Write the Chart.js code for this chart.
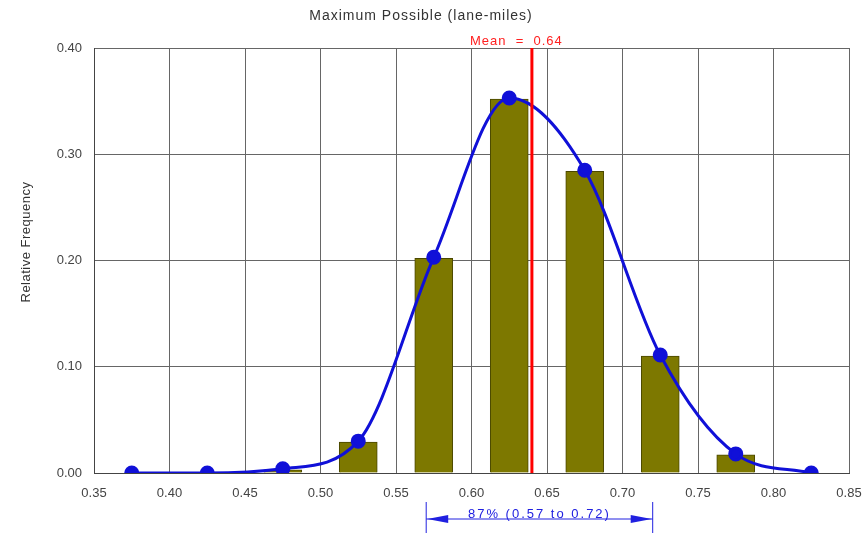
<!DOCTYPE html>
<html>
<head>
<meta charset="UTF-8">
<title>Maximum Possible (lane-miles)</title>
<script src="https://cdn.jsdelivr.net/npm/chart.js@4.4.0/dist/chart.umd.min.js"></script>
<style>
  html, body { margin: 0; padding: 0; background: #fff; }
  #wrap { width: 868px; height: 534px; position: relative; }
</style>
</head>
<body>
<div id="wrap"><canvas id="c"></canvas></div>
<script>
// histogram bins (centre of each bin) and relative frequency
const binCenters = [0.475, 0.525, 0.575, 0.625, 0.675, 0.725, 0.775];
const barFreq    = [0.003, 0.029, 0.202, 0.352, 0.284, 0.110, 0.017];

// fitted curve points
const curveX = [0.375, 0.425, 0.475, 0.525, 0.575, 0.625, 0.675, 0.725, 0.775, 0.825];
const curveY = [0.000, 0.000, 0.004, 0.030, 0.203, 0.353, 0.285, 0.111, 0.018, 0.000];

const meanValue = 0.64;
const rangeLow = 0.57, rangeHigh = 0.72;
const rangeLabel = '87% (0.57 to 0.72)';
const yTicks = [0.00, 0.10, 0.20, 0.30, 0.40];

const FONT = '"Liberation Sans", Arial, sans-serif';

const extras = {
  id: 'extras',
  afterDatasetsDraw(chart) {
    const { ctx, chartArea, scales } = chart;
    const xs = scales.x;
    ctx.save();
    // mean line
    const mx = xs.getPixelForValue(meanValue);
    ctx.strokeStyle = '#ff0000';
    ctx.lineWidth = 3;
    ctx.beginPath();
    ctx.moveTo(mx, chartArea.top);
    ctx.lineTo(mx, chartArea.bottom);
    ctx.stroke();
    ctx.restore();
  },
  afterDraw(chart) {
    const { ctx, scales } = chart;
    const xs = scales.x;
    ctx.save();
    // title
    ctx.fillStyle = '#333';
    ctx.font = '14px ' + FONT;
    ctx.textAlign = 'center';
    ctx.textBaseline = 'middle';
    ctx.letterSpacing = '1px';
    ctx.fillText('Maximum Possible (lane-miles)', 421, 16);

    // y axis title
    ctx.save();
    ctx.font = '13px ' + FONT;
    ctx.letterSpacing = '0.5px';
    ctx.translate(26, 242);
    ctx.rotate(-Math.PI / 2);
    ctx.fillText('Relative Frequency', 0, 0);
    ctx.restore();

    // mean label
    const mx = xs.getPixelForValue(meanValue);
    ctx.font = '13px ' + FONT;
    ctx.fillStyle = '#ff2020';
    ctx.textAlign = 'left';
    ctx.textBaseline = 'alphabetic';
    ctx.letterSpacing = '1px';
    ctx.fillText('Mean  =  0.64', mx - 62, 45);

    // range annotation
    const x1 = xs.getPixelForValue(rangeLow);
    const x2 = xs.getPixelForValue(rangeHigh);
    const ay = 519;
    ctx.strokeStyle = '#2020e0';
    ctx.fillStyle = '#2020e0';
    ctx.lineWidth = 1;
    ctx.beginPath();
    ctx.moveTo(x1, 502); ctx.lineTo(x1, 533);
    ctx.moveTo(x2, 502); ctx.lineTo(x2, 533);
    ctx.moveTo(x1, ay); ctx.lineTo(x2, ay);
    ctx.stroke();
    ctx.beginPath();
    ctx.moveTo(x1 + 1, ay); ctx.lineTo(x1 + 22, ay - 4); ctx.lineTo(x1 + 22, ay + 4); ctx.closePath();
    ctx.moveTo(x2 - 1, ay); ctx.lineTo(x2 - 22, ay - 4); ctx.lineTo(x2 - 22, ay + 4); ctx.closePath();
    ctx.fill();
    ctx.textAlign = 'center';
    ctx.letterSpacing = '2px';
    ctx.fillText(rangeLabel, (x1 + x2) / 2, ay - 1);
    ctx.restore();
  }
};

new Chart(document.getElementById('c'), {
  data: {
    datasets: [
      {
        type: 'line',
        data: curveX.map((x, i) => ({ x: x, y: curveY[i] })),
        borderColor: '#1010d8',
        backgroundColor: '#1010d8',
        borderWidth: 3,
        pointRadius: 6,
        pointHoverRadius: 6,
        cubicInterpolationMode: 'monotone',
        order: 0
      },
      {
        type: 'bar',
        data: binCenters.map((x, i) => ({ x: x, y: barFreq[i] })),
        backgroundColor: '#7d7800',
        borderColor: '#4a4700',
        borderWidth: 1,
        barThickness: 38,
        order: 1
      }
    ]
  },
  options: {
    responsive: true,
    maintainAspectRatio: false,
    animation: false,
    layout: { padding: { left: 0, right: 19, top: 48, bottom: 32 } },
    plugins: { legend: { display: false }, tooltip: { enabled: false } },
    scales: {
      x: {
        type: 'linear',
        min: 0.35, max: 0.85,
        offset: false,
        afterFit: s => { s.height = 29; s.paddingLeft = 0; s.paddingRight = 0; },
        ticks: {
          stepSize: 0.05,
          callback: v => v.toFixed(2),
          color: '#444',
          font: { family: FONT, size: 13 },
          maxRotation: 0,
          padding: 13
        },
        grid: { color: '#666', lineWidth: 1, drawTicks: false, offset: false },
        border: { color: '#444', width: 1 }
      },
      y: {
        min: 0, max: 0.4,
        afterFit: s => { s.width = 94; s.paddingTop = 0; s.paddingBottom = 0; },
        afterBuildTicks: s => { s.ticks = yTicks.map(v => ({ value: v })); },
        ticks: {
          callback: v => v.toFixed(2),
          color: '#444',
          font: { family: FONT, size: 13 },
          padding: 12
        },
        grid: { color: '#666', lineWidth: 1, drawTicks: false },
        border: { color: '#444', width: 1 }
      }
    }
  },
  plugins: [extras]
});
</script>
</body>
</html>
